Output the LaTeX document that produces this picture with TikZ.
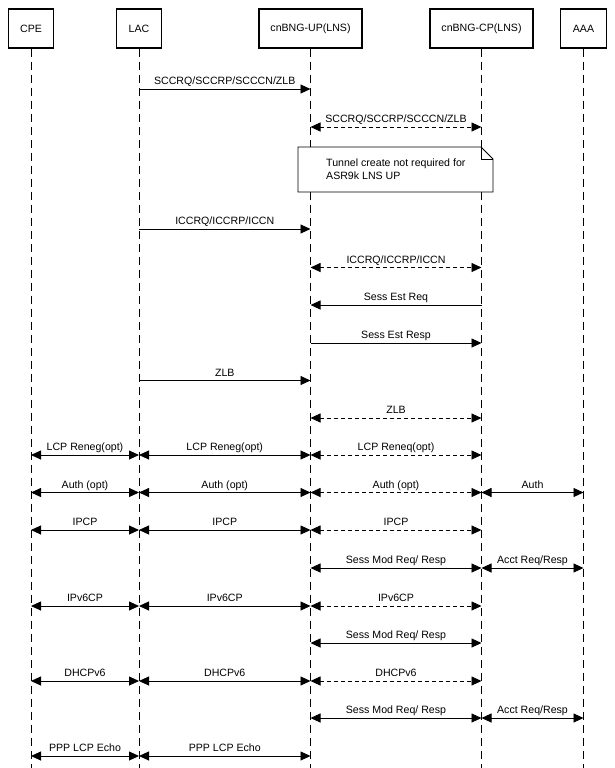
\documentclass[tikz,border=0pt]{standalone}
\usepackage{fontspec}
\setmainfont{Liberation Sans}
\usetikzlibrary{arrows.meta}
\begin{document}
\begin{tikzpicture}[x=1pt,y=-1pt,
  font=\fontsize{10.6}{13}\selectfont,
  actor/.style={draw, line width=1.6pt, minimum height=38.5pt, inner sep=0pt},
  life/.style={dash pattern=on 8pt off 5pt, line width=0.8pt},
  msg/.style={line width=0.9pt},
  dmsg/.style={line width=0.9pt, dash pattern=on 4pt off 3pt},
  tip/.style={-{Triangle[length=10pt,width=9pt]}},
  both/.style={{Triangle[length=10pt,width=9pt]}-{Triangle[length=10pt,width=9pt]}},
  lbl/.style={midway, anchor=base, yshift=4.5pt, inner sep=0pt}
]
\useasboundingbox (0,0) rectangle (614,768);

% actors
\node[actor, minimum width=45pt]  (cpe) at (31,28.5)  {CPE};
\node[actor, minimum width=45pt]  (lac) at (139,28.5) {LAC};
\node[actor, minimum width=103pt] (up)  at (310.5,28.5) {cnBNG-UP(LNS)};
\node[actor, minimum width=103pt] (cp)  at (481.5,28.5) {cnBNG-CP(LNS)};
\node[actor, minimum width=46pt]  (aaa) at (583.5,28.5) {AAA};

\coordinate (bot) at (0,768);
\foreach \a in {cpe,lac,up,cp,aaa}
  \draw[life] (\a.south) -- (\a |- bot);

% rows
\coordinate (r1) at (0,89);
\coordinate (r2) at (0,127);
\coordinate (r4) at (0,229);
\coordinate (r5) at (0,267.5);
\coordinate (r6) at (0,305);
\coordinate (r7) at (0,343);
\coordinate (r8) at (0,380.5);
\coordinate (r9) at (0,418);
\coordinate (r10) at (0,455);
\coordinate (r11) at (0,492.5);
\coordinate (r12) at (0,530);
\coordinate (r13) at (0,568);
\coordinate (r14) at (0,606);
\coordinate (r15) at (0,643);
\coordinate (r16) at (0,681);
\coordinate (r17) at (0,718);
\coordinate (r18) at (0,756);

% tunnel setup
\draw[msg,tip] (lac |- r1) -- (up |- r1) node[lbl]{SCCRQ/SCCRP/SCCCN/ZLB};
\draw[dmsg,both] (up |- r2) -- (cp |- r2) node[lbl]{SCCRQ/SCCRP/SCCCN/ZLB};

% note
\coordinate (nTL) at (298,147);
\coordinate (nBR) at (493,192);
\coordinate (nF) at (481,159);
\draw[line width=0.8pt, fill=white] (nTL) -- (nF |- nTL) -- (nBR |- nF) -- (nBR) -- (nTL |- nBR) -- cycle;
\draw[line width=0.8pt] (nF |- nTL) -- (nF) -- (nBR |- nF);
\node[anchor=west, align=left, inner sep=0pt] (note) at (326,169.5)
  {Tunnel create not required for\\ASR9k LNS UP};

% session setup
\draw[msg,tip] (lac |- r4) -- (up |- r4) node[lbl]{ICCRQ/ICCRP/ICCN};
\draw[dmsg,both] (up |- r5) -- (cp |- r5) node[lbl]{ICCRQ/ICCRP/ICCN};
\draw[msg,tip] (cp |- r6) -- (up |- r6) node[lbl]{Sess Est Req};
\draw[msg,tip] (up |- r7) -- (cp |- r7) node[lbl]{Sess Est Resp};
\draw[msg,tip] (lac |- r8) -- (up |- r8) node[lbl]{ZLB};
\draw[dmsg,both] (up |- r9) -- (cp |- r9) node[lbl]{ZLB};

% LCP
\draw[msg,both] (cpe |- r10) -- (lac |- r10) node[lbl]{LCP Reneg(opt)};
\draw[msg,both] (lac |- r10) -- (up |- r10) node[lbl]{LCP Reneg(opt)};
\draw[dmsg,both] (up |- r10) -- (cp |- r10) node[lbl]{LCP Reneq(opt)};

% Auth
\draw[msg,both] (cpe |- r11) -- (lac |- r11) node[lbl]{Auth (opt)};
\draw[msg,both] (lac |- r11) -- (up |- r11) node[lbl]{Auth (opt)};
\draw[dmsg,both] (up |- r11) -- (cp |- r11) node[lbl]{Auth (opt)};
\draw[msg,both] (cp |- r11) -- (aaa |- r11) node[lbl]{Auth};

% IPCP
\draw[msg,both] (cpe |- r12) -- (lac |- r12) node[lbl]{IPCP};
\draw[msg,both] (lac |- r12) -- (up |- r12) node[lbl]{IPCP};
\draw[dmsg,both] (up |- r12) -- (cp |- r12) node[lbl]{IPCP};

\draw[msg,both] (up |- r13) -- (cp |- r13) node[lbl]{Sess Mod Req/ Resp};
\draw[msg,both] (cp |- r13) -- (aaa |- r13) node[lbl]{Acct Req/Resp};

% IPv6CP
\draw[msg,both] (cpe |- r14) -- (lac |- r14) node[lbl]{IPv6CP};
\draw[msg,both] (lac |- r14) -- (up |- r14) node[lbl]{IPv6CP};
\draw[dmsg,both] (up |- r14) -- (cp |- r14) node[lbl]{IPv6CP};

\draw[msg,both] (up |- r15) -- (cp |- r15) node[lbl]{Sess Mod Req/ Resp};

% DHCPv6
\draw[msg,both] (cpe |- r16) -- (lac |- r16) node[lbl]{DHCPv6};
\draw[msg,both] (lac |- r16) -- (up |- r16) node[lbl]{DHCPv6};
\draw[dmsg,both] (up |- r16) -- (cp |- r16) node[lbl]{DHCPv6};

\draw[msg,both] (up |- r17) -- (cp |- r17) node[lbl]{Sess Mod Req/ Resp};
\draw[msg,both] (cp |- r17) -- (aaa |- r17) node[lbl]{Acct Req/Resp};

% echo
\draw[msg,both] (cpe |- r18) -- (lac |- r18) node[lbl]{PPP LCP Echo};
\draw[msg,both] (lac |- r18) -- (up |- r18) node[lbl]{PPP LCP Echo};
\end{tikzpicture}
\end{document}
